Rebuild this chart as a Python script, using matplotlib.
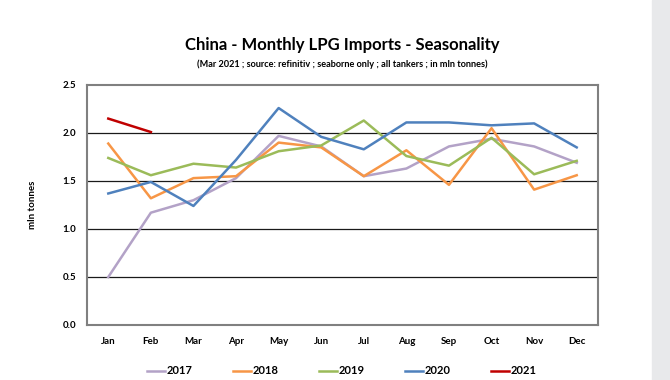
import numpy as np
import matplotlib.pyplot as plt
from matplotlib.patches import Rectangle

plt.rcParams['font.family'] = ['Lato', 'DejaVu Sans']

months = ['Jan', 'Feb', 'Mar', 'Apr', 'May', 'Jun', 'Jul', 'Aug', 'Sep', 'Oct', 'Nov', 'Dec']
y2017 = [0.50, 1.17, 1.30, 1.53, 1.97, 1.86, 1.55, 1.63, 1.86, 1.94, 1.86, 1.69]
y2018 = [1.89, 1.32, 1.53, 1.55, 1.90, 1.85, 1.55, 1.82, 1.46, 2.05, 1.41, 1.56]
y2019 = [1.74, 1.56, 1.68, 1.64, 1.81, 1.87, 2.13, 1.76, 1.66, 1.95, 1.57, 1.71]
y2020 = [1.37, 1.49, 1.24, 1.72, 2.26, 1.96, 1.83, 2.11, 2.11, 2.08, 2.10, 1.85]
y2021 = [2.15, 2.01]

series = [('2017', y2017, '#B3A2C7'), ('2018', y2018, '#F79646'),
          ('2019', y2019, '#9BBB59'), ('2020', y2020, '#4F81BD'),
          ('2021', y2021, '#C00000')]

fig = plt.figure(figsize=(6.7, 3.8), dpi=100)
ax = fig.add_axes([87/670, 55/380, 511/670, 240/380])

for name, vals, col in series:
    ax.plot(months[:len(vals)], vals, color=col, lw=1.8, label=name)

ax.set_ylim(0, 2.5)
ax.set_xlim(-0.5, 11.5)
ax.set_yticks(np.arange(0, 2.51, 0.5))
ax.set_yticklabels([f'{v:.1f}' for v in np.arange(0, 2.51, 0.5)], fontsize=7, fontweight='bold')
ax.tick_params(axis='x', length=0, pad=9, labelsize=7)
ax.tick_params(axis='y', length=0, pad=8)
for lab in ax.get_xticklabels():
    lab.set_fontweight('bold')
for v in [0.5, 1.0, 1.5, 2.0]:
    ax.axhline(v, color='#1a1a1a', lw=0.9, zorder=0)
for sp in ax.spines.values():
    sp.set_color('#808080')
    sp.set_linewidth(1.5)

ax.set_ylabel('mln tonnes', fontsize=7, fontweight='bold', labelpad=18)

fig.text(342/670, 1 - 45/380, 'China - Monthly LPG Imports - Seasonality',
         ha='center', va='center', fontsize=12, fontweight='bold')
fig.text(342/670, 1 - 64/380, '(Mar 2021 ; source: refinitiv ; seaborne only ; all tankers ; in mln tonnes)',
         ha='center', va='center', fontsize=6.6, fontweight='bold')

leg = fig.legend(loc='center', bbox_to_anchor=(342/670, 1 - 371/380), ncol=5,
                 frameon=False, handlelength=1.6, handletextpad=0.2,
                 columnspacing=3.6, prop={'weight': 'bold', 'size': 8})

fig.patches.append(Rectangle((652/670, 0), 18/670, 1, transform=fig.transFigure,
                             color='#E8E9EB', zorder=0))

fig.savefig('out.png', dpi=100)
